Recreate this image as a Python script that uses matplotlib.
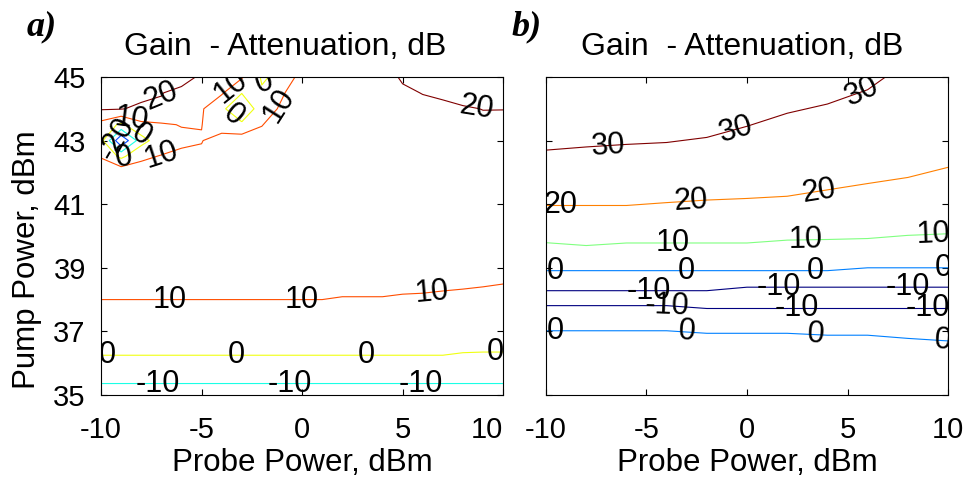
import numpy as np
import matplotlib
matplotlib.use('Agg')
import matplotlib.pyplot as plt

plt.rcParams['font.family'] = ['Liberation Sans', 'DejaVu Sans']
plt.rcParams['axes.unicode_minus'] = False

# ---- panel a): gain (dB) on a probe power x pump power grid ----
xa = [-10, -9, -8, -7, -6, -5, -4, -3, -2, -1, 0, 1, 2, 3, 4, 5, 6, 7, 8, 9, 10]
ya = [35, 35.8, 36.6, 37.5, 38.5, 39.5, 41, 42, 42.5, 43, 43.5, 44, 44.5, 45]
za = [
    [-15, -15, -15, -15, -15, -15, -15, -15, -15, -15, -15, -15, -15, -15, -15, -15, -15, -15, -15, -15, -15],
    [-3.9, -3.9, -3.9, -3.9, -3.9, -3.9, -3.9, -3.9, -3.9, -3.9, -3.9, -3.9, -3.9, -3.9, -3.9, -3.9, -3.9, -3.9, -3.9, -3.9, -3.9],
    [3.03, 3.03, 3.03, 3.03, 3.03, 3.03, 3.03, 3.03, 3.03, 3.03, 3.03, 3.03, 3.03, 3.03, 3.03, 3.03, 3.03, 3.03, 1.99, 1.77, 1.77],
    [6, 6, 6, 6, 6, 6, 6, 6, 6, 6, 6, 6, 6, 6, 6, 6, 6, 6, 6, 6, 6],
    [14, 14, 14, 14, 14, 14, 14, 14, 14, 14, 14, 14, 12.78, 12.78, 12.78, 11.97, 11.71, 11.19, 10.82, 10.44, 10.04],
    [14, 14, 14, 14, 14, 14, 14, 14, 14, 14, 14, 14, 14, 14, 14, 14, 14, 14, 14, 14, 14],
    [15, 15, 15, 15, 15, 15, 15, 15, 15, 15, 15, 15, 15, 15, 15, 15, 15, 15, 15, 15, 15],
    [12, 16.9, 13, 14, 14, 14, 14, 14, 14, 14, 14, 14, 14, 14, 14, 14, 14, 14, 14, 14, 14],
    [9.78, -2.3, 8.7, 10.44, 12, 12, 15, 13, 13, 14, 14, 14, 14, 14, 14, 14, 14, 14, 14, 14, 14],
    [3.2, -29, -4, 6, 8.15, 9.5, 16, 15.5, 12, 14, 14, 15, 15, 15, 15, 15, 15, 15, 16, 16, 16],
    [6.57, -1.9, 8, 9, 10.35, 10.24, 3, 1.8, 9.78, 13, 14, 15, 15, 15, 15, 16, 16, 17, 18, 18, 18],
    [20.86, 20.5, 18, 19, 15, 11, 2, -8, 5.1, 11.5, 14, 15, 15, 15, 15, 16, 17, 18, 19, 20.2, 20.15],
    [24, 24, 23, 20.25, 18, 13, 11.1, 0.3, 1, 9, 15.7, 15, 15, 15, 15, 18, 20.33, 21.57, 24, 24, 25],
    [27, 27, 27, 26, 23, 18.7, 15, 11.1, -1, 2.1, 14.25, 15, 15, 15, 15, 21.5, 23, 24, 26, 27, 28],
]
levels_a = [-20, -10, 0, 10, 20]

# ---- panel b) ----
xb = [-10, -8, -6, -4, -2, 0, 2, 4, 6, 8, 10]
yb = [35, 36.6, 37.1, 37.6, 37.9, 38.2, 38.5, 38.8, 39.1, 39.6, 40.2, 40.8, 42.3, 42.5, 45]
zb = [
    [5, 5, 5, 5, 5, 5, 5, 5, 5, 5, 5],
    [6.72, 6.72, 6.72, 6.72, 5.44, 5.44, 5.44, 4.48, 4.48, 2.88, 1.6],
    [-1.28, -1.28, -1.28, -1.28, -2.56, -2.56, -2.56, -3.52, -3.52, -5.12, -6.4],
    [-4.4, -4.4, -4.4, -4.4, -6.8, -6.8, -6.8, -6.8, -6.8, -6.8, -6.8],
    [-12.4, -12.4, -12.4, -12.4, -14.8, -14.8, -14.8, -14.8, -14.8, -14.8, -14.8],
    [-12.13, -12.13, -12.13, -12.13, -12.13, -15.07, -15.07, -15.07, -15.07, -15.07, -15.07],
    [-4.13, -4.13, -4.13, -4.13, -4.13, -7.07, -7.07, -7.07, -7.07, -7.07, -7.07],
    [-2.93, -2.93, -2.93, -2.93, -2.93, -2.93, -2.93, -2.93, -5.33, -5.33, -5.33],
    [5.07, 5.07, 5.07, 5.07, 5.07, 5.07, 5.07, 5.07, 2.67, 2.67, 2.67],
    [7.47, 8.67, 7.6, 7.6, 7.6, 7.6, 6.4, 6.13, 5.73, 4.4, 3.73],
    [15.47, 16.67, 15.6, 15.6, 15.6, 15.6, 14.4, 14.13, 13.73, 12.4, 11.73],
    [19.15, 19.15, 19.15, 18.67, 18.24, 17.97, 17.6, 16.53, 15.47, 14.45, 12.75],
    [27.15, 27.15, 27.15, 26.67, 26.24, 25.97, 25.6, 24.53, 23.47, 22.45, 20.75],
    [29.2, 28.8, 28.48, 28.24, 27.6, 26.2, 24.56, 23.4, 21.6, 21.5, 21.0],
    [39.2, 38.8, 38.48, 38.24, 37.6, 36.2, 34.56, 33.4, 31.6, 28, 27],
]
levels_b = [-10, 0, 10, 20, 30]

# line colours (matlab jet, scaled to each panel's range)
colors_a = {-20: '#004dff', -10: '#1affe6', 0: '#f0ff10', 10: '#ff4d00', 20: '#800000'}
colors_b = {-10: '#000080', 0: '#0080ff', 10: '#80ff80', 20: '#ff8000', 30: '#800000'}

# where the contour labels sit (data coords, per level)
labels_a = {
    -20: [(-9.2, 43.05)],
    -10: [(-7.2, 35.36), (-0.6, 35.36), (5.9, 35.36)],
    0: [(-9.7, 36.25), (-3.25, 36.25), (3.2, 36.25), (9.6, 36.35),
        (-3.3, 43.9), (-8.1, 43.1), (-8.9, 42.5), (-1.95, 44.85)],
    10: [(-6.6, 38.0), (0.0, 38.0), (6.45, 38.2), (-8.45, 43.8),
         (-3.6, 44.7), (-7.0, 42.6), (-1.1, 44.1)],
    20: [(-7.0, 44.35), (8.7, 44.1)],
}
labels_b = {
    -10: [(-4.9, 38.28), (1.6, 38.39), (8.0, 38.39),
          (-4.0, 37.81), (2.5, 37.72), (9.0, 37.72)],
    0: [(-9.55, 38.91), (-3.0, 38.91), (3.4, 38.91), (9.75, 39.0),
        (-9.55, 37.02), (-3.0, 37.0), (3.4, 36.88), (9.75, 36.7)],
    10: [(-3.7, 39.78), (2.9, 39.88), (9.25, 40.05)],
    20: [(-9.3, 40.96), (-2.8, 41.1), (3.6, 41.4)],
    30: [(-6.9, 42.86), (-0.6, 43.5), (5.6, 44.75)],
}

fig = plt.figure(figsize=(9.66, 4.8), dpi=100)
ax1 = fig.add_axes([0.1046, 0.1771, 0.4162, 0.6625])
ax2 = fig.add_axes([0.5652, 0.1771, 0.4162, 0.6625])

panels = [(ax1, xa, ya, za, levels_a, colors_a, labels_a, 0.458),
          (ax2, xb, yb, zb, levels_b, colors_b, labels_b, 0.4876)]
for ax, x, y, z, lev, cols, labs, tx in panels:
    ax.set_xlim(-10, 10); ax.set_ylim(35, 45)
    ax.set_xticks([-10, -5, 0, 5, 10])
    ax.set_yticks([35, 37, 39, 41, 43, 45])
    ax.tick_params(direction='in', top=True, right=True, length=4,
                   width=0.8, labelsize=21)
    ax.tick_params(axis='x', pad=15)
    ax.tick_params(axis='y', pad=11)
    for s in ax.spines.values():
        s.set_linewidth(0.8)
    # one contour set per level so every manual label lands on its own level
    for L in lev:
        cs = ax.contour(np.array(x), np.array(y), np.array(z), levels=[L],
                        colors=cols[L], linewidths=0.8, linestyles='solid')
        ax.set_xlim(-10, 10); ax.set_ylim(35, 45)
        ax.clabel(cs, manual=labs[L], inline=False, fmt='%d',
                  colors='k', fontsize=22)
    t = ax.set_title('Gain  - Attenuation, dB', fontsize=23, pad=16)
    t.set_x(tx)
    ax.set_xlabel('Probe Power, dBm', fontsize=22.5, labelpad=3)

ax1.set_ylabel('Pump Power, dBm', fontsize=22.5)
ax1.yaxis.set_label_coords(-0.146, 0.427)
ax2.tick_params(labelleft=False)
# last tick label of panel a sits to the left of its tick, as in the original
ax1.xaxis.get_major_ticks()[-1].label1.set_horizontalalignment('right')

fig.text(27/966, 1-35/480, 'a)', fontsize=26, family='Liberation Serif',
         weight='bold', style='italic')
fig.text(512/966, 1-35/480, 'b)', fontsize=26, family='Liberation Serif',
         weight='bold', style='italic')

fig.savefig('out.png', dpi=100)
